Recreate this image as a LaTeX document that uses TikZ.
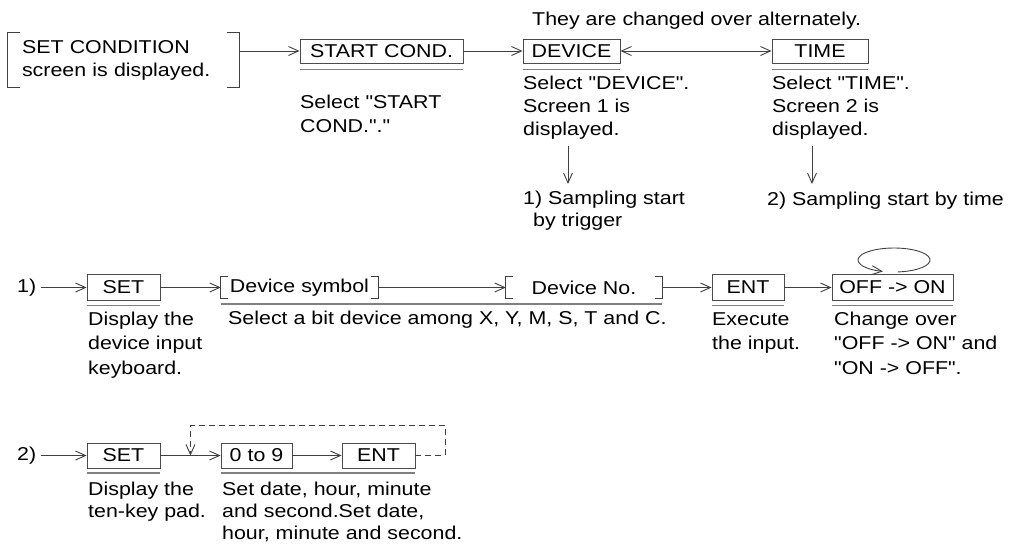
\documentclass[tikz,border=0pt]{standalone}
\usepackage{fontspec}
\setmainfont[FakeStretch=1.15, Ligatures=TeXOff]{Liberation Sans}
\usetikzlibrary{arrows.meta}
\newcommand\dfont[1][23]{\fontsize{18.6}{#1}\selectfont}
\begin{document}
\begin{tikzpicture}[x=1pt,y=-1pt,
  lin/.style={draw=black!75, line width=0.9pt},
  arr/.style={lin, -{Straight Barb[length=10pt,width=9pt]}},
  box/.style={draw=black!70, line width=0.9pt, inner sep=0pt, minimum height=25pt, font=\dfont},
  brk/.style={inner sep=0pt, minimum height=22pt, font=\dfont},
  txt/.style={inner sep=0pt, anchor=north west, align=left, font=\dfont},
  ul/.style={draw=black!50, line width=1.8pt},
]
\useasboundingbox (0,0) rectangle (1014,550);

% ---------- row 1 ----------
\node[txt] (alt) at (532,9) {\strut They are changed over alternately.};
\node[inner sep=0pt, minimum width=231pt, minimum height=54pt, text width=203pt, align=left, font=\dfont] (sc) at (123.5,60) {SET CONDITION\\screen is displayed.};
\draw[lin] ([xshift=12pt]sc.north west) -- (sc.north west) -- (sc.south west) -- ([xshift=12pt]sc.south west);
\draw[lin] ([xshift=-12pt]sc.north east) -- (sc.north east) -- (sc.south east) -- ([xshift=-12pt]sc.south east);

\node[box, minimum width=163pt, minimum height=24pt] (startc) at (381.5,51) {START COND.};
\node[box, minimum width=97pt, minimum height=24pt] (device) at (571.5,51) {DEVICE};
\node[box, minimum width=96pt, minimum height=24pt] (time) at (820,51) {TIME};

\draw[ul] ([yshift=-6pt]startc.south west) -- ([yshift=-6pt]startc.south east);
\draw[ul] ([yshift=-6pt]device.south west) -- ([yshift=-6pt]device.south east);
\draw[ul] ([yshift=-6pt]time.south west) -- ([yshift=-6pt]time.south east);

\draw[arr] (startc.west -| sc.east) -- (startc.west);
\draw[arr] (startc.east) -- (device.west);
\draw[lin, {Straight Barb[length=10pt,width=9pt]}-{Straight Barb[length=10pt,width=9pt]}] (device.east) -- (time.west);

\node[txt, font={\dfont[24]}] (stxt) at (300,91) {\strut Select "START\\COND."."};
\node[txt] (devtxt) at (523,73) {\strut Select "DEVICE".\\Screen 1 is\\displayed.};
\node[txt] (timetxt) at (772,73) {\strut Select "TIME".\\Screen 2 is\\displayed.};

\node[txt, font={\dfont[22]}] (samp1) at (523,189) {\strut 1) Sampling start\\\hspace*{10pt}by trigger};
\node[txt] (samp2) at (767,189) {\strut 2) Sampling start by time};

\coordinate (a1s) at (568,146);
\coordinate (a2s) at (812,146);
\draw[arr, shorten >=5pt] (a1s) -- (a1s |- samp1.north);
\draw[arr, shorten >=5pt] (a2s) -- (a2s |- samp2.north);

% ---------- row 2 ----------
\node[inner xsep=5pt, inner ysep=0pt, anchor=west, font=\dfont] (l1) at (12,287.5) {1)};
\node[box, minimum width=73pt, minimum height=26pt] (set1) at (123.5,287.5) {SET};
\node[brk, minimum width=157pt] (dsym) at (299.5,287.5) {Device symbol};
\node[brk, minimum width=156pt] (dno) at (584,287.5) {Device No.};
\node[box, minimum width=72pt, minimum height=26pt] (ent1) at (748,287.5) {ENT};
\node[box, minimum width=121pt, minimum height=26pt] (offon) at (892.5,287.5) {OFF -> ON};

\foreach \n in {dsym,dno}{
  \draw[lin] ([xshift=7pt]\n.north west) -- (\n.north west) -- (\n.south west) -- ([xshift=7pt]\n.south west);
  \draw[lin] ([xshift=-7pt]\n.north east) -- (\n.north east) -- (\n.south east) -- ([xshift=-7pt]\n.south east);
}

\draw[arr] (l1.east) -- (set1.west);
\draw[arr] (set1.east) -- (dsym.west);
\draw[arr] (dsym.east) -- (dno.west);
\draw[arr] (dno.east) -- (ent1.west);
\draw[arr] (ent1.east) -- (offon.west);

\coordinate (loopc) at (894,260);
\draw[arr] ([shift={(-84:36pt and 12pt)}]loopc) arc[start angle=-84, end angle=252, x radius=36pt, y radius=12pt];

\draw[ul] ([yshift=-4.5pt]set1.south west) -- ([yshift=-4.5pt]set1.south east);
\draw[ul] ([yshift=-5.5pt]dsym.south west) -- ([yshift=-5.5pt]dno.south east);
\draw[ul] ([yshift=-4.5pt]ent1.south west) -- ([yshift=-4.5pt]ent1.south east);
\draw[ul] ([yshift=-4.5pt]offon.south west) -- ([yshift=-4.5pt]offon.south east);

\node[txt, font={\dfont[24.5]}] (dtxt1) at (88,308) {\strut Display the\\device input\\keyboard.};
\node[txt] (seltxt) at (228,308) {\strut Select a bit device among X, Y, M, S, T and C.};
\node[txt, font={\dfont[24.5]}] (exetxt) at (712,308) {\strut Execute\\the input.};
\node[txt, font={\dfont[24.5]}] (chgtxt) at (834,308) {\strut Change over\\"OFF -> ON" and\\"ON -> OFF".};

% ---------- row 3 ----------
\node[inner xsep=5pt, inner ysep=0pt, anchor=west, font=\dfont] (l2) at (12,455.5) {2)};
\node[box, minimum width=73pt] (set2) at (123.5,455.5) {SET};
\node[box, minimum width=71pt] (zero9) at (256.5,455.5) {0 to 9};
\node[box, minimum width=73pt] (ent2) at (378.5,455.5) {ENT};

\draw[arr] (l2.east) -- (set2.west);
\draw[arr] (set2.east) -- (zero9.west);
\draw[arr] (zero9.east) -- (ent2.west);

\coordinate (dr) at (445,425.5);
\coordinate (dl) at (190.5,425.5);
\draw[arr, dash pattern=on 6pt off 4pt] (ent2.east) -- (ent2.east -| dr) -- (dr) -- (dl) -- (dl |- set2.east);

\draw[ul] ([yshift=-4.5pt]set2.south west) -- ([yshift=-4.5pt]set2.south east);
\draw[ul] ([yshift=-4.5pt]zero9.south west) -- ([yshift=-4.5pt]ent2.south east);

\node[txt, font={\dfont[22]}] (dtxt2) at (88,480) {\strut Display the\\ten-key pad.};
\node[txt, font={\dfont[22]}] (settxt) at (222,480) {\strut Set date, hour, minute\\and second.Set date,\\hour, minute and second.};
\end{tikzpicture}
\end{document}
